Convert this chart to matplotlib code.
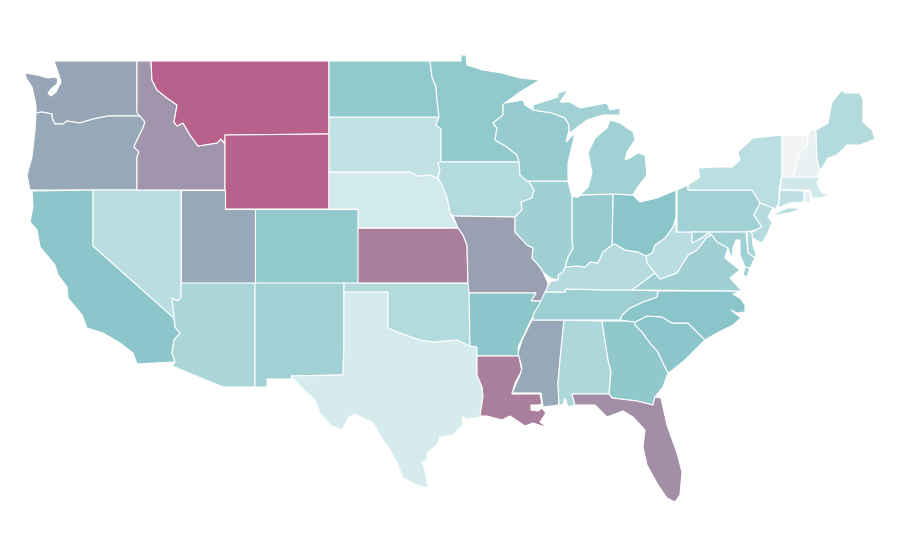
import matplotlib
matplotlib.use('Agg')
import matplotlib.pyplot as plt
from matplotlib.colors import LinearSegmentedColormap, Normalize

# State values (0 = palest, 100 = darkest)
states = ['WA', 'OR', 'CA', 'NV', 'ID', 'MT', 'WY', 'UT', 'CO', 'AZ', 'NM', 'TX',
          'OK', 'KS', 'NE', 'SD', 'ND', 'MN', 'IA', 'MO', 'AR', 'LA', 'MS', 'AL',
          'GA', 'FL', 'SC', 'NC', 'TN', 'KY', 'VA', 'WV', 'OH', 'IN', 'IL', 'WI',
          'MI', 'PA', 'NY', 'VT', 'NH', 'ME', 'MA', 'CT', 'RI', 'NJ', 'DE', 'MD']
values = [66, 64, 49, 26, 74, 100, 100, 64, 46, 33, 38, 12,
          29, 85, 13, 22, 46, 46, 29, 69, 49, 85, 64, 32,
          47, 77, 49, 50, 41, 28, 39, 26, 50, 44, 39, 44,
          38, 38, 25, 0, 4, 29, 14, 24, 6, 28, 33, 39]

# Colour scale stops
scale_pos = [0.0, 0.12, 0.5, 1.0]
scale_col = ['#f3f4f6', '#d4ebed', '#8ac5c9', '#b7618c']

# State outlines on the page, traced from the map (no shapefile available here)
outlines = {
    'WA': [[(54, 61), (137, 61), (137, 110), (138, 113), (140, 116), (108, 116), (93, 119), (80, 123), (67, 121),
            (63, 124), (55, 124), (52, 118), (52, 114), (42, 112), (36, 113), (36, 107), (35, 100), (32, 87),
            (26, 78), (25, 73), (37, 75), (48, 78), (55, 77), (58, 79), (57, 84), (52, 88), (48, 93), (51, 96),
            (56, 92), (61, 82), (58, 72)]],
    'OR': [[(36, 113), (42, 112), (52, 114), (52, 118), (55, 124), (63, 124), (67, 121), (80, 123), (93, 119),
            (108, 116), (140, 116), (145, 122), (143, 128), (137, 140), (134, 147), (139, 152), (137, 157),
            (137, 190), (30, 190), (27, 175), (32, 157), (35, 130)]],
    'ID': [[(137, 61), (151, 61), (152, 80), (157, 90), (167, 98), (177, 105), (174, 122), (177, 126), (183, 123),
            (190, 135), (198, 146), (217, 143), (221, 139), (225, 144), (225, 190), (137, 190), (137, 157),
            (139, 152), (134, 147), (137, 140), (143, 128), (145, 122), (140, 116), (137, 113)]],
    'MT': [[(151, 61), (329, 61), (329, 134), (225, 135), (225, 144), (221, 139), (217, 143), (198, 146), (190, 135),
            (183, 123), (177, 126), (174, 122), (177, 105), (167, 98), (157, 90), (152, 80)]],
    'WY': [[(225, 135), (329, 134), (329, 209), (225, 209)]],
    'NV': [[(93, 190), (181, 190), (181, 298), (177, 301), (172, 298), (173, 307), (174, 318), (93, 246)]],
    'CA': [[(32, 191), (93, 190), (93, 246), (174, 318), (175, 327), (180, 333), (174, 340), (172, 353), (175, 362),
            (137, 364), (133, 353), (120, 343), (103, 333), (87, 328), (82, 315), (68, 298), (67, 287), (58, 275),
            (55, 265), (40, 247), (37, 230), (30, 222), (33, 207)]],
    'UT': [[(181, 190), (225, 190), (225, 209), (255, 209), (255, 283), (181, 283)]],
    'CO': [[(255, 209), (358, 209), (358, 283), (255, 283)]],
    'AZ': [[(181, 283), (255, 283), (255, 387), (223, 387), (172, 366), (175, 362), (172, 353), (174, 340), (180, 333),
            (175, 327), (174, 318), (173, 307), (172, 298), (177, 301), (181, 298)]],
    'NM': [[(255, 283), (344, 283), (344, 343), (343, 375), (291, 376), (292, 379), (267, 379), (267, 387), (255, 387)]],
    'TX': [[(344, 292), (388, 292), (388, 328), (400, 333), (420, 340), (433, 342), (457, 340), (470, 346), (477, 347),
            (477, 375), (482, 387), (483, 397), (480, 417), (468, 419), (462, 417), (463, 425), (453, 435), (440, 437),
            (437, 445), (427, 453), (427, 460), (422, 462), (425, 470), (428, 488), (417, 485), (403, 478), (397, 463),
            (390, 450), (383, 440), (373, 423), (355, 414), (348, 418), (342, 430), (330, 425), (320, 413), (315, 400),
            (302, 388), (291, 376), (343, 375), (344, 343)]],
    'OK': [[(344, 283), (468, 283), (470, 293), (470, 346), (457, 340), (433, 342), (420, 340), (400, 333), (388, 328),
            (388, 292), (344, 292)]],
    'KS': [[(358, 228), (458, 228), (463, 235), (467, 245), (468, 283), (358, 283)]],
    'NE': [[(329, 172), (410, 172), (418, 176), (430, 175), (438, 178), (442, 185), (447, 197), (450, 213), (458, 228),
            (358, 228), (358, 209), (329, 209)]],
    'SD': [[(329, 117), (439, 117), (436, 125), (441, 129), (441, 162), (438, 163), (440, 170), (437, 178), (430, 175),
            (418, 176), (410, 172), (329, 172)]],
    'ND': [[(329, 61), (430, 61), (432, 77), (436, 87), (437, 100), (439, 117), (329, 117)]],
    'MN': [[(430, 61), (461, 61), (461, 55), (466, 55), (467, 65), (483, 70), (502, 73), (520, 78), (540, 80), (520, 92),
            (505, 103), (503, 105), (503, 115), (493, 123), (497, 128), (495, 140), (507, 147), (517, 155), (519, 162),
            (441, 162), (441, 129), (436, 125), (439, 117), (437, 100), (436, 87), (432, 77)]],
    'IA': [[(440, 162), (519, 162), (520, 175), (527, 178), (534, 190), (532, 198), (521, 202), (522, 210), (515, 217),
            (453, 216), (450, 213), (447, 197), (442, 185), (438, 178), (440, 170), (438, 163)]],
    'WI': [[(505, 103), (523, 100), (525, 105), (533, 110), (552, 113), (565, 118), (569, 125), (569, 130), (566, 142),
            (575, 133), (572, 146), (568, 163), (568, 181), (527, 181), (520, 175), (519, 162), (517, 155), (507, 147),
            (495, 140), (497, 128), (493, 123), (503, 115), (503, 105)]],
    'MI': [[(533, 105), (558, 97), (558, 93), (568, 90), (560, 102), (570, 102), (580, 108), (607, 103), (610, 110),
            (620, 108), (620, 115), (603, 115), (587, 120), (570, 133), (569, 130), (569, 125), (565, 118), (552, 113),
            (533, 110)],
           [(610, 120), (620, 123), (633, 132), (635, 140), (627, 152), (625, 160), (630, 158), (638, 153), (645, 155),
            (647, 175), (637, 188), (633, 195), (613, 194), (580, 195), (578, 197), (588, 187), (592, 173), (588, 153),
            (595, 138), (607, 128)]],
    'IL': [[(527, 178), (534, 190), (532, 198), (521, 202), (522, 210), (515, 217), (515, 232), (527, 245), (533, 248),
            (532, 258), (540, 267), (543, 272), (550, 278), (558, 280), (558, 275), (563, 272), (565, 267), (568, 257),
            (573, 248), (572, 243), (572, 197), (568, 181), (527, 181)]],
    'IN': [[(572, 197), (578, 197), (580, 195), (613, 194), (612, 245), (603, 252), (598, 263), (590, 262), (585, 267),
            (577, 266), (565, 267), (568, 257), (573, 248), (572, 243)]],
    'OH': [[(613, 194), (633, 195), (640, 202), (657, 198), (676, 190), (676, 217), (673, 227), (665, 238), (655, 245),
            (652, 253), (646, 256), (638, 252), (625, 250), (615, 244), (612, 245)]],
    'KY': [[(558, 280), (558, 275), (563, 272), (565, 267), (577, 266), (585, 267), (590, 262), (598, 263), (603, 252),
            (612, 245), (615, 244), (625, 250), (638, 252), (646, 256), (647, 263), (655, 273), (643, 282), (632, 290),
            (608, 290), (566, 289), (565, 292), (545, 292), (550, 282)]],
    'TN': [[(545, 292), (565, 292), (566, 289), (608, 290), (632, 290), (658, 291), (657, 297), (643, 302), (630, 308),
            (622, 315), (620, 320), (533, 320), (533, 315), (540, 303)]],
    'MO': [[(453, 216), (515, 217), (515, 232), (527, 245), (533, 248), (532, 258), (540, 267), (543, 272), (548, 283),
            (547, 289), (542, 301), (531, 301), (536, 293), (469, 293), (468, 283), (467, 245), (463, 235), (458, 228)]],
    'AR': [[(469, 293), (536, 293), (531, 301), (542, 301), (537, 310), (530, 322), (525, 333), (518, 347), (519, 356),
            (477, 356), (477, 347), (470, 346)]],
    'LA': [[(477, 356), (519, 356), (521, 367), (522, 370), (515, 383), (512, 394), (540, 394), (542, 404), (538, 405),
            (531, 405), (531, 410), (538, 411), (542, 408), (546, 413), (540, 422), (548, 428), (533, 423), (525, 426),
            (510, 416), (502, 420), (487, 416), (480, 416), (483, 397), (482, 387), (477, 375)]],
    'MS': [[(532, 320), (564, 320), (560, 360), (558, 383), (559, 405), (543, 407), (541, 393), (512, 393), (520, 375),
            (522, 368), (518, 353), (522, 340)]],
    'AL': [[(564, 320), (602, 321), (608, 360), (611, 372), (609, 394), (572, 394), (575, 405), (568, 407), (565, 398),
            (563, 405), (559, 405), (558, 383), (560, 360)]],
    'GA': [[(602, 321), (636, 321), (635, 325), (642, 332), (650, 343), (658, 352), (663, 363), (668, 373), (663, 387),
            (655, 397), (653, 405), (637, 401), (612, 398), (609, 394), (611, 372), (608, 360)]],
    'FL': [[(572, 394), (609, 394), (612, 398), (637, 401), (653, 405), (655, 397), (661, 398), (667, 425), (677, 453),
            (682, 472), (680, 495), (675, 502), (667, 498), (658, 485), (647, 465), (643, 447), (645, 430), (633, 417),
            (623, 411), (607, 417), (595, 405), (577, 405), (575, 405)]],
    'SC': [[(635, 322), (647, 316), (662, 317), (672, 323), (688, 323), (705, 340), (695, 350), (685, 360), (670, 372),
            (668, 373), (663, 363), (658, 352), (650, 343), (642, 332), (635, 325)]],
    'NC': [[(658, 291), (742, 291), (733, 294), (741, 299), (745, 305), (745, 312), (737, 313), (731, 310), (741, 318),
            (733, 325), (717, 333), (705, 340), (688, 323), (672, 323), (662, 317), (647, 316), (635, 322), (620, 320),
            (622, 315), (630, 308), (643, 302), (657, 297)]],
    'VA': [[(632, 290), (643, 282), (655, 273), (660, 279), (677, 273), (683, 263), (688, 255), (697, 250), (707, 237),
            (712, 235), (717, 242), (728, 248), (725, 258), (740, 270), (730, 278), (742, 291)],
           [(745, 267), (750, 268), (747, 277), (743, 275)]],
    'WV': [[(676, 217), (676, 232), (692, 232), (692, 243), (703, 237), (708, 233), (712, 235), (707, 237), (697, 250),
            (688, 255), (683, 263), (677, 273), (660, 279), (655, 273), (647, 263), (646, 256), (652, 253), (655, 245),
            (665, 238), (673, 227)]],
    'MD': [[(692, 232), (746, 232), (748, 253), (755, 258), (750, 268), (745, 267), (740, 255), (740, 240), (736, 240),
            (733, 248), (732, 260), (728, 248), (717, 242), (712, 235), (708, 233), (703, 237), (692, 243)]],
    'DE': [[(747, 232), (748, 231), (752, 233), (753, 245), (756, 255), (755, 258), (748, 253)]],
    'PA': [[(677, 190), (688, 185), (688, 190), (752, 190), (757, 198), (760, 203), (754, 215), (762, 227), (756, 230),
            (747, 232), (677, 232)]],
    'NJ': [[(760, 203), (773, 208), (768, 217), (772, 222), (768, 233), (762, 243), (750, 237), (752, 232), (756, 230),
            (762, 227), (754, 215)]],
    'NY': [[(688, 185), (700, 177), (698, 168), (718, 167), (732, 167), (740, 160), (738, 152), (753, 138), (782, 135),
            (782, 173), (779, 190), (779, 203), (775, 210), (773, 208), (760, 203), (757, 198), (752, 190), (688, 190)],
           [(772, 215), (787, 208), (802, 208), (793, 212), (777, 215)]],
    'VT': [[(782, 135), (808, 135), (807, 147), (800, 152), (797, 163), (793, 177), (782, 177), (782, 173)]],
    'NH': [[(808, 135), (811, 130), (816, 130), (817, 160), (820, 170), (817, 177), (793, 177), (797, 163), (800, 152),
            (807, 147)]],
    'ME': [[(816, 130), (828, 123), (832, 102), (842, 90), (845, 93), (860, 93), (863, 100), (863, 122), (872, 130),
            (875, 139), (860, 145), (847, 145), (837, 155), (828, 158), (822, 168), (820, 170), (817, 160)]],
    'MA': [[(782, 177), (817, 177), (820, 175), (817, 183), (822, 193), (830, 195), (820, 198), (812, 198), (810, 190),
            (780, 190)]],
    'CT': [[(780, 190), (804, 191), (804, 202), (790, 203), (778, 208), (779, 203)]],
    'RI': [[(804, 191), (810, 191), (810, 202), (804, 202)]],
}

cmap = LinearSegmentedColormap.from_list('teal_pink', list(zip(scale_pos, scale_col)))
norm = Normalize(0, 100)

fig = plt.figure(figsize=(9, 5.6), dpi=100)
ax = fig.add_axes([0, 0, 1, 1])
ax.set_xlim(0, 900)
ax.set_ylim(560, 0)
ax.axis('off')

for state, value in zip(states, values):
    for part in outlines[state]:
        xs = [p[0] for p in part]
        ys = [p[1] for p in part]
        ax.fill(xs, ys, facecolor=cmap(norm(value)), edgecolor='white', linewidth=0.8)

fig.savefig('out.png', dpi=100)
